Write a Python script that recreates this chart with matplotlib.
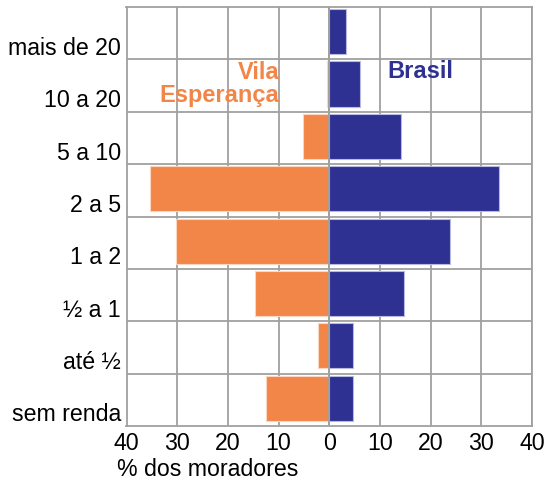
import matplotlib
matplotlib.use("Agg")
import matplotlib.pyplot as plt
import numpy as np

plt.rcParams['font.family'] = ['Liberation Sans', 'DejaVu Sans']

# faixas de renda (de baixo para cima)
categorias = ['sem renda', 'até ½', '½ a 1', '1 a 2', '2 a 5', '5 a 10', '10 a 20', 'mais de 20']
vila = [12.5, 2.2, 14.7, 30.3, 35.4, 5.2, 0.4, 0.0]
brasil = [4.7, 4.7, 14.8, 23.8, 33.5, 14.1, 6.1, 3.4]
xticks = [-40, -30, -20, -10, 0, 10, 20, 30, 40]

laranja = '#F28648'
azul = '#2E3192'
cinza = '#A0A0A0'

fig = plt.figure(figsize=(5.45, 4.88), dpi=100)
ax = fig.add_axes([126.5 / 545, 1 - 426 / 488, (532 - 126.5) / 545, (426 - 7) / 488])

y = np.arange(len(categorias))
ax.barh(y + 0.03, -np.array(vila), height=0.86, color=laranja, edgecolor='#FBD6C0', linewidth=0.8, zorder=2)
ax.barh(y + 0.03, brasil, height=0.86, color=azul, edgecolor='#B8B9DC', linewidth=0.8, zorder=2)

ax.set_xlim(-40, 40)
ax.set_ylim(-0.5, len(categorias) - 0.5)

# grade
for xv in xticks:
    ax.axvline(xv, color=cinza, lw=1.3, zorder=1)
ax.axvline(0, color=cinza, lw=1.3, zorder=3)
for yv in y[:-1] + 0.5:
    ax.axhline(yv, color=cinza, lw=1.3, zorder=1)

ax.set_xticks(xticks)
ax.set_xticklabels([str(abs(v)) for v in xticks], fontsize=16.7)
ax.set_yticks(y - 0.24)
ax.set_yticklabels(categorias, fontsize=16.7)
ax.tick_params(length=0, pad=4)
ax.tick_params(axis='x', pad=4)
for s in ax.spines.values():
    s.set_color(cinza)
    s.set_linewidth(1.3)

ax.text(-9.8, 6.03, 'Vila\nEsperança', color=laranja, fontsize=17, fontweight='bold',
        ha='right', va='center', linespacing=1.0, zorder=4)
ax.text(11.5, 6.26, 'Brasil', color=azul, fontsize=17, fontweight='bold',
        ha='left', va='center', zorder=4)

fig.text(117 / 545, 1 - 470 / 488, '% dos moradores', fontsize=16.7, ha='left', va='center')

fig.savefig('out.png', dpi=100)
